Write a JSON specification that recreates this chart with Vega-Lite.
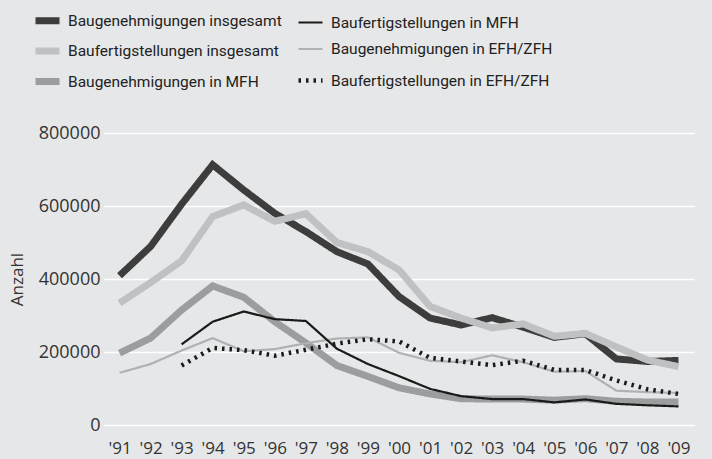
{
  "$schema": "https://vega.github.io/schema/vega-lite/v6.json",
  "width": 590,
  "height": 292,
  "autosize": {"type": "none"},
  "padding": {"left": 104, "top": 133, "right": 18, "bottom": 34},
  "background": "#e6e7e8",
  "config": {
    "view": {"stroke": null},
    "font": "Open Sans",
    "axis": {"labelFont": "Open Sans", "titleFont": "Open Sans"},
    "legend": {"labelFont": "Roboto"}
  },
  "data": {
    "values": [
      {"year": 1991, "series": "Baugenehmigungen insgesamt", "value": 409000},
      {"year": 1992, "series": "Baugenehmigungen insgesamt", "value": 489000},
      {"year": 1993, "series": "Baugenehmigungen insgesamt", "value": 605000},
      {"year": 1994, "series": "Baugenehmigungen insgesamt", "value": 713000},
      {"year": 1995, "series": "Baugenehmigungen insgesamt", "value": 644000},
      {"year": 1996, "series": "Baugenehmigungen insgesamt", "value": 580000},
      {"year": 1997, "series": "Baugenehmigungen insgesamt", "value": 530000},
      {"year": 1998, "series": "Baugenehmigungen insgesamt", "value": 475000},
      {"year": 1999, "series": "Baugenehmigungen insgesamt", "value": 441000},
      {"year": 2000, "series": "Baugenehmigungen insgesamt", "value": 352000},
      {"year": 2001, "series": "Baugenehmigungen insgesamt", "value": 293000},
      {"year": 2002, "series": "Baugenehmigungen insgesamt", "value": 274000},
      {"year": 2003, "series": "Baugenehmigungen insgesamt", "value": 294000},
      {"year": 2004, "series": "Baugenehmigungen insgesamt", "value": 268000},
      {"year": 2005, "series": "Baugenehmigungen insgesamt", "value": 240000},
      {"year": 2006, "series": "Baugenehmigungen insgesamt", "value": 250000},
      {"year": 2007, "series": "Baugenehmigungen insgesamt", "value": 181000},
      {"year": 2008, "series": "Baugenehmigungen insgesamt", "value": 174000},
      {"year": 2009, "series": "Baugenehmigungen insgesamt", "value": 177000},

      {"year": 1991, "series": "Baufertigstellungen insgesamt", "value": 334000},
      {"year": 1992, "series": "Baufertigstellungen insgesamt", "value": 390000},
      {"year": 1993, "series": "Baufertigstellungen insgesamt", "value": 450000},
      {"year": 1994, "series": "Baufertigstellungen insgesamt", "value": 571000},
      {"year": 1995, "series": "Baufertigstellungen insgesamt", "value": 603000},
      {"year": 1996, "series": "Baufertigstellungen insgesamt", "value": 558000},
      {"year": 1997, "series": "Baufertigstellungen insgesamt", "value": 579000},
      {"year": 1998, "series": "Baufertigstellungen insgesamt", "value": 500000},
      {"year": 1999, "series": "Baufertigstellungen insgesamt", "value": 475000},
      {"year": 2000, "series": "Baufertigstellungen insgesamt", "value": 425000},
      {"year": 2001, "series": "Baufertigstellungen insgesamt", "value": 325000},
      {"year": 2002, "series": "Baufertigstellungen insgesamt", "value": 293000},
      {"year": 2003, "series": "Baufertigstellungen insgesamt", "value": 266000},
      {"year": 2004, "series": "Baufertigstellungen insgesamt", "value": 277000},
      {"year": 2005, "series": "Baufertigstellungen insgesamt", "value": 243000},
      {"year": 2006, "series": "Baufertigstellungen insgesamt", "value": 251000},
      {"year": 2007, "series": "Baufertigstellungen insgesamt", "value": 214000},
      {"year": 2008, "series": "Baufertigstellungen insgesamt", "value": 178000},
      {"year": 2009, "series": "Baufertigstellungen insgesamt", "value": 160000},

      {"year": 1991, "series": "Baugenehmigungen in MFH", "value": 197000},
      {"year": 1992, "series": "Baugenehmigungen in MFH", "value": 238000},
      {"year": 1993, "series": "Baugenehmigungen in MFH", "value": 315000},
      {"year": 1994, "series": "Baugenehmigungen in MFH", "value": 381000},
      {"year": 1995, "series": "Baugenehmigungen in MFH", "value": 350000},
      {"year": 1996, "series": "Baugenehmigungen in MFH", "value": 283000},
      {"year": 1997, "series": "Baugenehmigungen in MFH", "value": 225000},
      {"year": 1998, "series": "Baugenehmigungen in MFH", "value": 163000},
      {"year": 1999, "series": "Baugenehmigungen in MFH", "value": 133000},
      {"year": 2000, "series": "Baugenehmigungen in MFH", "value": 102000},
      {"year": 2001, "series": "Baugenehmigungen in MFH", "value": 85000},
      {"year": 2002, "series": "Baugenehmigungen in MFH", "value": 72000},
      {"year": 2003, "series": "Baugenehmigungen in MFH", "value": 71000},
      {"year": 2004, "series": "Baugenehmigungen in MFH", "value": 71000},
      {"year": 2005, "series": "Baugenehmigungen in MFH", "value": 68000},
      {"year": 2006, "series": "Baugenehmigungen in MFH", "value": 72000},
      {"year": 2007, "series": "Baugenehmigungen in MFH", "value": 65000},
      {"year": 2008, "series": "Baugenehmigungen in MFH", "value": 63000},
      {"year": 2009, "series": "Baugenehmigungen in MFH", "value": 63000},

      {"year": 1991, "series": "Baugenehmigungen in EFH/ZFH", "value": 143000},
      {"year": 1992, "series": "Baugenehmigungen in EFH/ZFH", "value": 167000},
      {"year": 1993, "series": "Baugenehmigungen in EFH/ZFH", "value": 204000},
      {"year": 1994, "series": "Baugenehmigungen in EFH/ZFH", "value": 238000},
      {"year": 1995, "series": "Baugenehmigungen in EFH/ZFH", "value": 202000},
      {"year": 1996, "series": "Baugenehmigungen in EFH/ZFH", "value": 208000},
      {"year": 1997, "series": "Baugenehmigungen in EFH/ZFH", "value": 224000},
      {"year": 1998, "series": "Baugenehmigungen in EFH/ZFH", "value": 237000},
      {"year": 1999, "series": "Baugenehmigungen in EFH/ZFH", "value": 240000},
      {"year": 2000, "series": "Baugenehmigungen in EFH/ZFH", "value": 198000},
      {"year": 2001, "series": "Baugenehmigungen in EFH/ZFH", "value": 176000},
      {"year": 2002, "series": "Baugenehmigungen in EFH/ZFH", "value": 172000},
      {"year": 2003, "series": "Baugenehmigungen in EFH/ZFH", "value": 191000},
      {"year": 2004, "series": "Baugenehmigungen in EFH/ZFH", "value": 172000},
      {"year": 2005, "series": "Baugenehmigungen in EFH/ZFH", "value": 146000},
      {"year": 2006, "series": "Baugenehmigungen in EFH/ZFH", "value": 148000},
      {"year": 2007, "series": "Baugenehmigungen in EFH/ZFH", "value": 94000},
      {"year": 2008, "series": "Baugenehmigungen in EFH/ZFH", "value": 90000},
      {"year": 2009, "series": "Baugenehmigungen in EFH/ZFH", "value": 88000},

      {"year": 1993, "series": "Baufertigstellungen in MFH", "value": 221000},
      {"year": 1994, "series": "Baufertigstellungen in MFH", "value": 283000},
      {"year": 1995, "series": "Baufertigstellungen in MFH", "value": 311000},
      {"year": 1996, "series": "Baufertigstellungen in MFH", "value": 290000},
      {"year": 1997, "series": "Baufertigstellungen in MFH", "value": 285000},
      {"year": 1998, "series": "Baufertigstellungen in MFH", "value": 209000},
      {"year": 1999, "series": "Baufertigstellungen in MFH", "value": 167000},
      {"year": 2000, "series": "Baufertigstellungen in MFH", "value": 134000},
      {"year": 2001, "series": "Baufertigstellungen in MFH", "value": 99000},
      {"year": 2002, "series": "Baufertigstellungen in MFH", "value": 79000},
      {"year": 2003, "series": "Baufertigstellungen in MFH", "value": 71000},
      {"year": 2004, "series": "Baufertigstellungen in MFH", "value": 71000},
      {"year": 2005, "series": "Baufertigstellungen in MFH", "value": 62000},
      {"year": 2006, "series": "Baufertigstellungen in MFH", "value": 70000},
      {"year": 2007, "series": "Baufertigstellungen in MFH", "value": 58000},
      {"year": 2008, "series": "Baufertigstellungen in MFH", "value": 54000},
      {"year": 2009, "series": "Baufertigstellungen in MFH", "value": 51000},

      {"year": 1993, "series": "Baufertigstellungen in EFH/ZFH", "value": 163000},
      {"year": 1994, "series": "Baufertigstellungen in EFH/ZFH", "value": 211000},
      {"year": 1995, "series": "Baufertigstellungen in EFH/ZFH", "value": 205000},
      {"year": 1996, "series": "Baufertigstellungen in EFH/ZFH", "value": 190000},
      {"year": 1997, "series": "Baufertigstellungen in EFH/ZFH", "value": 206000},
      {"year": 1998, "series": "Baufertigstellungen in EFH/ZFH", "value": 223000},
      {"year": 1999, "series": "Baufertigstellungen in EFH/ZFH", "value": 235000},
      {"year": 2000, "series": "Baufertigstellungen in EFH/ZFH", "value": 229000},
      {"year": 2001, "series": "Baufertigstellungen in EFH/ZFH", "value": 184000},
      {"year": 2002, "series": "Baufertigstellungen in EFH/ZFH", "value": 174000},
      {"year": 2003, "series": "Baufertigstellungen in EFH/ZFH", "value": 164000},
      {"year": 2004, "series": "Baufertigstellungen in EFH/ZFH", "value": 176000},
      {"year": 2005, "series": "Baufertigstellungen in EFH/ZFH", "value": 151000},
      {"year": 2006, "series": "Baufertigstellungen in EFH/ZFH", "value": 151000},
      {"year": 2007, "series": "Baufertigstellungen in EFH/ZFH", "value": 122000},
      {"year": 2008, "series": "Baufertigstellungen in EFH/ZFH", "value": 98000},
      {"year": 2009, "series": "Baufertigstellungen in EFH/ZFH", "value": 85000}
    ]
  },
  "mark": {"type": "line", "strokeCap": "butt", "strokeJoin": "miter"},
  "encoding": {
    "x": {
      "field": "year", "type": "quantitative",
      "scale": {"domain": [1990.5, 2009.5], "nice": false, "zero": false},
      "axis": {
        "title": null, "values": [1991,1992,1993,1994,1995,1996,1997,1998,1999,2000,2001,2002,2003,2004,2005,2006,2007,2008,2009],
        "labelExpr": "\"'\" + format(datum.value % 100, '02d')",
        "domain": false, "ticks": false, "grid": false,
        "labelFontSize": 17, "labelColor": "#333333", "labelPadding": 15, "labelDx": -9,
        "labelFlush": false, "labelOverlap": false
      }
    },
    "y": {
      "field": "value", "type": "quantitative",
      "scale": {"domain": [0, 800000], "nice": false},
      "axis": {
        "title": "Anzahl", "titleFontSize": 17, "titleFontWeight": "normal", "titleColor": "#333333", "titlePadding": 12,
        "values": [0, 200000, 400000, 600000, 800000], "format": "d",
        "domain": false, "ticks": false, "grid": true, "gridColor": "#ffffff", "gridWidth": 1.5,
        "labelFontSize": 18, "labelColor": "#333333", "labelPadding": 4
      }
    },
    "color": {
      "field": "series", "type": "nominal",
      "scale": {
        "domain": ["Baugenehmigungen insgesamt", "Baufertigstellungen insgesamt", "Baugenehmigungen in MFH", "Baufertigstellungen in MFH", "Baugenehmigungen in EFH/ZFH", "Baufertigstellungen in EFH/ZFH"],
        "range": ["#3d3d3d", "#c0c1c3", "#9c9d9f", "#1a1a1a", "#b0b1b3", "#1a1a1a"]
      },
      "legend": {
        "title": null, "orient": "none", "legendX": -72, "legendY": -128, "columns": 2,
        "symbolType": "stroke", "symbolSize": 576, "labelFontSize": 15.5, "labelColor": "#222222",
        "labelOffset": 5, "columnPadding": 7, "rowPadding": 0.5, "labelLimit": 300
      }
    },
    "strokeWidth": {
      "field": "series", "type": "nominal",
      "scale": {
        "type": "ordinal",
        "domain": ["Baugenehmigungen insgesamt", "Baufertigstellungen insgesamt", "Baugenehmigungen in MFH", "Baufertigstellungen in MFH", "Baugenehmigungen in EFH/ZFH", "Baufertigstellungen in EFH/ZFH"],
        "range": [7, 7, 7, 2.2, 2.2, 4.5]
      }
    },
    "strokeDash": {
      "field": "series", "type": "nominal",
      "scale": {
        "domain": ["Baugenehmigungen insgesamt", "Baufertigstellungen insgesamt", "Baugenehmigungen in MFH", "Baufertigstellungen in MFH", "Baugenehmigungen in EFH/ZFH", "Baufertigstellungen in EFH/ZFH"],
        "range": [[1, 0], [1, 0], [1, 0], [1, 0], [1, 0], [2.5, 5]]
      }
    }
  }
}
